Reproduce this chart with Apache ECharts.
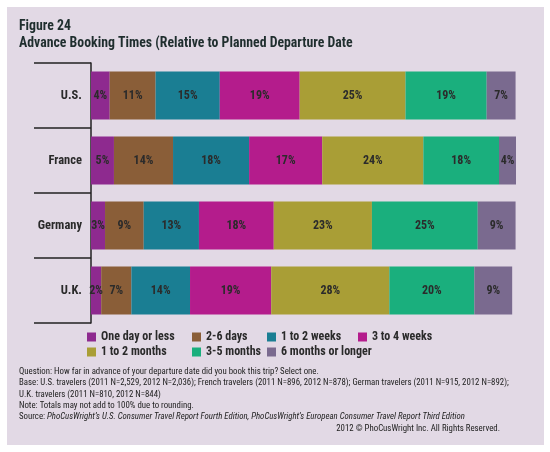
<!DOCTYPE html>
<html><head><meta charset="utf-8">
<script src="https://cdn.jsdelivr.net/npm/echarts@6/dist/echarts.min.js"></script>
<style>html,body{margin:0;padding:0;background:#fff}#c{width:550px;height:452px}</style>
</head><body><div id="c"></div>
<script>
const categories = ['U.S.', 'France', 'Germany', 'U.K.'];
const seriesNames = ['One day or less', '2-6 days', '1 to 2 weeks', '3 to 4 weeks', '1 to 2 months', '3-5 months', '6 months or longer'];
const oneDayOrLess = [4.4, 5.4, 3.3, 2.4];
const twoToSixDays = [10.8, 13.9, 9.1, 7.1];
const oneToTwoWeeks = [15.1, 17.9, 13.0, 13.8];
const threeToFourWeeks = [18.8, 17.2, 17.6, 19.1];
const oneToTwoMonths = [24.9, 23.8, 23.1, 27.8];
const threeToFiveMonths = [19.1, 17.8, 24.9, 20.0];
const sixMonthsOrLonger = [6.8, 4.1, 8.9, 8.9];
const seriesValues = [oneDayOrLess, twoToSixDays, oneToTwoWeeks, threeToFourWeeks, oneToTwoMonths, threeToFiveMonths, sixMonthsOrLonger];
const colors = ['#8E2A8F', '#8A5E38', '#1A7E93', '#B41C8C', '#A99E36', '#1AAF7D', '#7A6A8F'];

const F = '"Roboto Condensed","Open Sans Condensed","Liberation Sans",sans-serif';
const legendPos = [[87,331],[192,331],[267,331],[358,331],[87,346],[192,346],[267,346]];
const FS = 8.8;
const foot = (y, text) => ({type:'text', x:19, y:y,
  style:{text:text, font:FS+'px '+F, fill:'#222', verticalAlign:'top'}});

const chart = echarts.init(document.getElementById('c'));
chart.setOption({
  animation: false,
  backgroundColor: '#fff',
  color: colors,
  graphic: [
    {type:'rect', z:-10, shape:{x:7,y:7,width:537,height:438}, style:{fill:'#E2D9E5'}},
    {type:'text', x:19, y:20, style:{text:'Figure 24', font:'bold 13.8px '+F, fill:'#1f2e2e', verticalAlign:'top'}},
    {type:'text', x:19, y:37, style:{text:'Advance Booking Times (Relative to Planned Departure Date', font:'bold 13.8px '+F, fill:'#1f2e2e', verticalAlign:'top'}},
    foot(367, 'Question: How far in advance of your departure date did you book this trip? Select one.'),
    foot(378.5, 'Base: U.S. travelers (2011 N=2,529, 2012 N=2,036); French travelers (2011 N=896, 2012 N=878); German travelers (2011 N=915, 2012 N=892);'),
    foot(390, 'U.K. travelers (2011 N=810, 2012 N=844)'),
    foot(401, 'Note: Totals may not add to 100% due to rounding.'),
    {type:'text', x:19, y:412,
      style:{text:'{a|Source: }{i|PhoCusWright\u2019s U.S. Consumer Travel Report Fourth Edition, PhoCusWright\u2019s European Consumer Travel Report Third Edition}',
      verticalAlign:'top', rich:{a:{font:FS+'px '+F, fill:'#222'}, i:{font:'italic '+FS+'px '+F, fill:'#222'}}}},
    {type:'text', x:500, y:424, style:{text:'2012 \u00a9 PhoCusWright Inc. All Rights Reserved.', font:FS+'px '+F, fill:'#222', align:'right', verticalAlign:'top'}}
  ],
  legend: seriesNames.map((n, i) => ({
    data: [n], left: legendPos[i][0], top: legendPos[i][1], padding: 0,
    itemWidth: 9, itemHeight: 9, icon: 'rect', itemGap: 5, selectedMode: false,
    textStyle: {fontFamily: F, fontWeight: 'bold', fontSize: 12, color: '#2a2a2a'}
  })),
  grid: {left: 91, right: 34, top: 63, bottom: 129},
  xAxis: {type: 'value', min: 0, max: 100, show: false},
  yAxis: {
    type: 'category', data: categories, inverse: true,
    axisLine: {show: true, lineStyle: {color: '#222', width: 1.5}},
    axisTick: {show: true, interval: 0, alignWithLabel: false, length: 57, lineStyle: {color: '#222', width: 1.5}},
    axisLabel: {margin: 9, fontFamily: F, fontWeight: 'bold', fontSize: 12.5, color: '#2a2a2a'}
  },
  series: seriesNames.map((n, i) => ({
    name: n, type: 'bar', stack: 'all', barWidth: 48,
    data: seriesValues[i],
    label: {show: true, position: 'inside', formatter: p => Math.round(p.value) + '%',
      fontFamily: F, fontWeight: 'bold', fontSize: 12, color: '#2b2b2b'}
  }))
});
</script></body></html>
